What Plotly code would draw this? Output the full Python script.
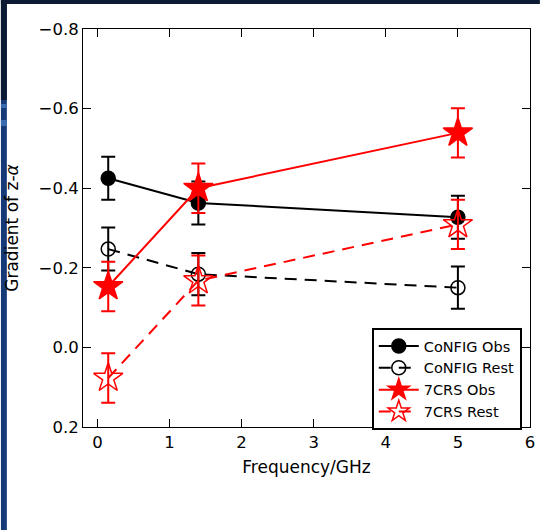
import plotly.graph_objects as go

freq = [0.15, 1.4, 5.0]

config_obs = [-0.425, -0.363, -0.327]
config_obs_err = [0.054, 0.054, 0.054]
config_rest = [-0.247, -0.184, -0.150]
config_rest_err = [0.054, 0.053, 0.053]
crs_obs = [-0.153, -0.400, -0.539]
crs_obs_err = [0.062, 0.062, 0.062]
crs_rest = [0.077, -0.168, -0.309]
crs_rest_err = [0.062, 0.063, 0.062]

names = ["CoNFIG Obs", "CoNFIG Rest", "7CRS Obs", "7CRS Rest"]

fig = go.Figure()

def add(y, err, name, color, dash, symbol, size):
    fig.add_trace(go.Scatter(
        x=freq, y=y, name=name, mode="lines+markers",
        line=dict(color=color, width=2, dash=dash),
        marker=dict(symbol=symbol, size=size, color=color,
                    line=dict(color=color, width=1.5)),
        error_y=dict(type="data", array=err, visible=True, color=color,
                     thickness=2, width=7),
    ))

add(config_obs, config_obs_err, names[0], "black", "solid", "circle", 14)
add(config_rest, config_rest_err, names[1], "black", "12px,8px", "circle-open", 14)
add(crs_obs, crs_obs_err, names[2], "red", "solid", "star", 22)
add(crs_rest, crs_rest_err, names[3], "red", "12px,8px", "star-open", 22)

L, R, T, B = 83, 10, 29, 103
W, H = 545, 530
pw, ph = W - L - R, H - T - B

def px(xp):
    return (xp - L) / pw

def py(yp):
    return (H - B - yp) / ph

shapes = [
    dict(type="rect", xref="paper", yref="paper", x0=px(0), x1=px(6), y0=py(530), y1=py(0),
         fillcolor="#163a78", line=dict(width=0), layer="below"),
    dict(type="rect", xref="paper", yref="paper", x0=px(0), x1=px(6), y0=py(100), y1=py(0),
         fillcolor="#0c1a33", line=dict(width=0), layer="below"),
    dict(type="rect", xref="paper", yref="paper", x0=px(0), x1=px(6), y0=py(108), y1=py(104),
         fillcolor="#3a6ab0", line=dict(width=0), layer="below"),
    dict(type="rect", xref="paper", yref="paper", x0=px(0), x1=px(6), y0=py(126), y1=py(120),
         fillcolor="#3a6ab0", line=dict(width=0), layer="below"),
    dict(type="rect", xref="paper", yref="paper", x0=px(0), x1=px(545), y0=py(4), y1=py(0),
         fillcolor="#0c1a33", line=dict(width=0), layer="below"),
]

fig.update_layout(
    width=W, height=H,
    margin=dict(l=L, r=R, t=T, b=B),
    paper_bgcolor="white", plot_bgcolor="white",
    font=dict(family="DejaVu Sans", size=16.5, color="black"),
    shapes=shapes,
    showlegend=True,
    legend=dict(x=px(375), y=py(328), xanchor="left", yanchor="top",
                bgcolor="white", bordercolor="black", borderwidth=2,
                font=dict(size=14.5), tracegroupgap=0, itemwidth=40),
    xaxis=dict(range=[-0.2, 6], tickvals=[0, 1, 2, 3, 4, 5, 6],
               ticks="inside", ticklen=8, tickwidth=1, tickcolor="black",
               showline=True, linecolor="black", linewidth=1, mirror="ticks",
               showgrid=False, zeroline=False,
               title=dict(text="Frequency/GHz", font=dict(size=17), standoff=10)),
    yaxis=dict(range=[0.2, -0.8], tickvals=[-0.8, -0.6, -0.4, -0.2, 0.0, 0.2],
               tickformat=".1f",
               ticks="inside", ticklen=8, tickwidth=1, tickcolor="black",
               showline=True, linecolor="black", linewidth=1, mirror="ticks",
               showgrid=False, zeroline=False,
               title=dict(text="Gradient of z-<i>α</i>", font=dict(size=17), standoff=15)),
)

fig.write_html("out.html")
